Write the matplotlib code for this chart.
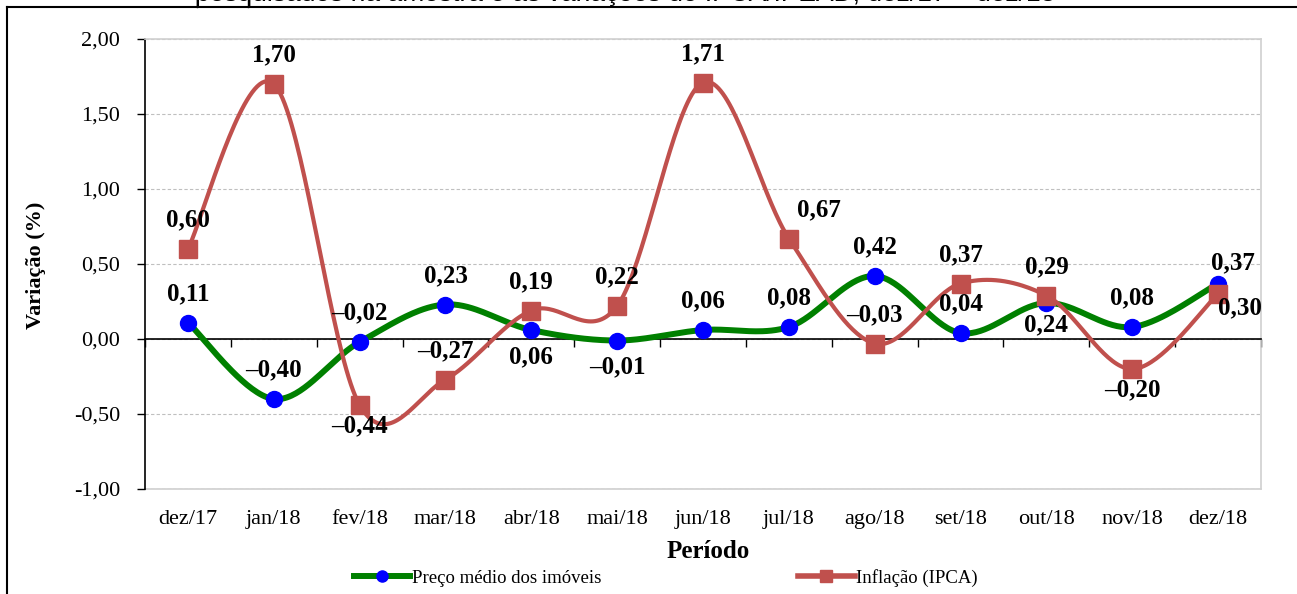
import numpy as np
import matplotlib
matplotlib.use("Agg")
import matplotlib.pyplot as plt
from matplotlib.ticker import FuncFormatter
from matplotlib.lines import Line2D

plt.rcParams['font.family'] = ['Liberation Serif', 'DejaVu Serif']

periodos = ["dez/17", "jan/18", "fev/18", "mar/18", "abr/18", "mai/18", "jun/18",
            "jul/18", "ago/18", "set/18", "out/18", "nov/18", "dez/18"]
preco = [0.11, -0.40, -0.02, 0.23, 0.06, -0.01, 0.06, 0.08, 0.42, 0.04, 0.24, 0.08, 0.37]
ipca = [0.60, 1.70, -0.44, -0.27, 0.19, 0.22, 1.71, 0.67, -0.03, 0.37, 0.29, -0.20, 0.30]

# label placement (offsets in points)
pos_preco = ["a", "a", "a", "a", "bg", "bg", "a", "a", "a", "a", "b24", "a", "r37"]
pos_ipca = ["a", "a", "b", "a", "a", "a", "a", "r", "a", "a", "a", "b", "br"]
offsets = {"a": (0, 21), "b": (0, -15), "bg": (0, -19), "b24": (0, -16),
           "r": (22, 21), "r37": (11, 15), "br": (16, -10)}


def smooth(y, n=40):
    # excel-like smoothed line (bezier through points, catmull-rom tangents)
    pts = np.column_stack([np.arange(len(y)), y]).astype(float)
    P = np.vstack([pts[0], pts, pts[-1]])
    t = np.linspace(0, 1, n)[:, None]
    out = []
    for i in range(len(pts) - 1):
        p0, p1, p2, p3 = P[i], P[i + 1], P[i + 2], P[i + 3]
        c1 = p1 + (p2 - p0) / 6
        c2 = p2 - (p3 - p1) / 6
        seg = (1 - t) ** 3 * p1 + 3 * (1 - t) ** 2 * t * c1 + 3 * (1 - t) * t ** 2 * c2 + t ** 3 * p2
        out.append(seg if i == 0 else seg[1:])
    return np.vstack(out)


def fmt(v):
    s = f"{abs(v):.2f}".replace(".", ",")
    return ("\u2013" + s) if v < 0 else s


fig = plt.figure(figsize=(12.97, 5.94), dpi=100)
ax = fig.add_axes([145 / 1297, 1 - 489 / 594, 1116 / 1297, 450 / 594])

x = np.arange(len(periodos))
sp = smooth(preco)
si = smooth(ipca)
green, blue, red = "#008000", "#0000FF", "#C0504D"

ax.plot(sp[:, 0], sp[:, 1], color=green, lw=4.3, zorder=3, solid_capstyle="round")
ax.plot(x, preco, ls="none", marker="o", ms=11.5, color=blue, zorder=4)
ax.plot(si[:, 0], si[:, 1], color=red, lw=3.0, zorder=5, solid_capstyle="round")
ax.plot(x, ipca, ls="none", marker="s", ms=12.5, color=red, zorder=6)

for xi, v, p in zip(x, preco, pos_preco):
    ax.annotate(fmt(v), (xi, v), xytext=offsets[p], textcoords="offset points",
                ha="center", va="center", fontsize=18, fontweight="bold", zorder=8)
for xi, v, p in zip(x, ipca, pos_ipca):
    ax.annotate(fmt(v), (xi, v), xytext=offsets[p], textcoords="offset points",
                ha="center", va="center", fontsize=18, fontweight="bold", zorder=8)

ax.set_xlim(-0.5, len(periodos) - 0.5)
ax.set_ylim(-1.0, 2.0)
ax.set_yticks(np.arange(-1.0, 2.01, 0.5))
ax.yaxis.set_major_formatter(FuncFormatter(lambda v, _: f"{v:.2f}".replace(".", ",")))
ax.tick_params(axis="y", direction="out", length=6, width=1, labelsize=16, pad=12)
ax.yaxis.grid(True, color="#BFBFBF", linestyle=(0, (3, 2)), lw=0.8)
ax.set_axisbelow(True)

# zero axis with tick marks between categories
ax.spines["bottom"].set_position(("data", 0))
ax.set_xticks(np.arange(-0.5, len(periodos), 1.0))
ax.tick_params(axis="x", direction="out", length=6, width=1, labelbottom=False)
ax.spines["bottom"].set_linewidth(1.2)
ax.spines["left"].set_linewidth(1.2)
for s in ["top", "right"]:
    ax.spines[s].set_color("#D0D0D0")
    ax.spines[s].set_linewidth(1.2)

sec = ax.secondary_xaxis(0.0)
sec.set_xticks(x)
sec.set_xticklabels(periodos)
sec.tick_params(axis="x", length=0, labelsize=16, pad=15)
sec.spines["bottom"].set_color("#D0D0D0")
sec.spines["bottom"].set_linewidth(1.2)

fig.text(708 / 1297, 1 - 552 / 594, "Período", ha="center", va="center",
         fontsize=18, fontweight="bold")
fig.text(36 / 1297, 1 - 265 / 594, "Variação (%)", ha="center", va="center",
         rotation=90, fontsize=16, fontweight="bold")

handles = [
    Line2D([], [], color=green, lw=4.3, marker="o", ms=8, mfc=blue, mec=blue),
    Line2D([], [], color=red, lw=4.0, marker="s", ms=8, mfc=red, mec=red),
]
fig.legend(handles, ["Preço médio dos imóveis", "Inflação (IPCA)"], loc="center",
           bbox_to_anchor=(666 / 1297, 1 - 578 / 594), ncol=2, frameon=False,
           fontsize=13.5, handlelength=3.0, handletextpad=0.1, columnspacing=10.5)

# truncated title above the outer frame
fig.text(625 / 1297, 1 - 6 / 594,
         "pesquisados na amostra e as variações do IPCA/IPEAD, dez/17 \u2013 dez/18",
         ha="center", va="bottom", fontsize=19, family="Liberation Sans")
fx, fy = 7 / 1297, 1 - 7 / 594
fig.add_artist(Line2D([fx, 1.0], [fy, fy], transform=fig.transFigure, color="black", lw=1.5))
fig.add_artist(Line2D([fx, fx], [0.0, fy], transform=fig.transFigure, color="black", lw=1.5))
for bx in (197, 248):
    fig.add_artist(Line2D([bx / 1297, bx / 1297], [fy, 1.0], transform=fig.transFigure,
                          color="black", lw=1.0))

fig.savefig("out.png", dpi=100)
